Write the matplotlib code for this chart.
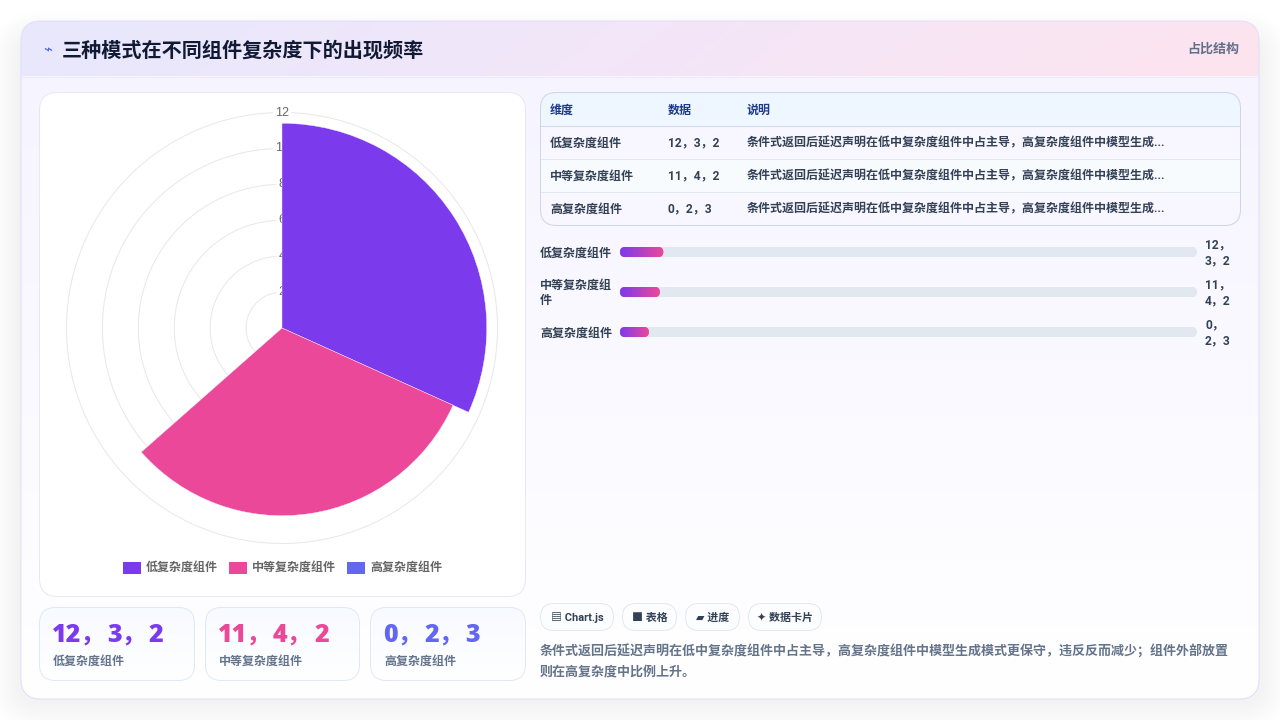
import numpy as np
import matplotlib
matplotlib.use('Agg')
import matplotlib.pyplot as plt
from matplotlib.patches import FancyBboxPatch, Rectangle
from matplotlib.colors import LinearSegmentedColormap

plt.rcParams['font.family'] = ['Noto Sans CJK SC', 'DejaVu Sans']
MIXED = ['Roboto', 'Noto Sans CJK SC', 'DejaVu Sans']

# ---- data ----
title = '三种模式在不同组件复杂度下的出现频率'
badge = '占比结构'
categories = ['低复杂度组件', '中等复杂度组件', '高复杂度组件']
polar_values = [11.4, 10.45, 0.0]
sector_span_deg = [114.3, 114.3, 114.3]
radial_ticks = [2, 4, 6, 8, 10, 12]
data_labels = ['12，3，2', '11，4，2', '0，2，3']
table_head = ['维度', '数据', '说明']
note_short = '条件式返回后延迟声明在低中复杂度组件中占主导，高复杂度组件中模型生成...'
progress_pct = [7.5, 6.9, 5.0]
progress_cat = ['低复杂度组件', '中等复杂度组\n件', '高复杂度组件']
progress_lab = ['12，\n3，2', '11，\n4，2', '0，\n2，3']
tags = ['▤ Chart.js', '■ 表格', '▰ 进度', '✦ 数据卡片']
summary = ['条件式返回后延迟声明在低中复杂度组件中占主导，高复杂度组件中模型生成模式更保守，违反反而减少；组件外部放置',
           '则在高复杂度中比例上升。']
colors = ['#7c3aed', '#ec4899', '#6366f1']

W, H = 1280, 720
fig = plt.figure(figsize=(W/100, H/100), dpi=100)
bg = fig.add_axes([0, 0, 1, 1])
bg.set_xlim(0, W); bg.set_ylim(H, 0); bg.axis('off')
LW = 0.72

def rbox(ax, x, y, w, h, r, fc='white', ec='none', lw=LW, z=2, alpha=None):
    p = FancyBboxPatch((x, y), w, h, boxstyle=f'round,pad=0,rounding_size={r}',
                       fc=fc, ec=ec, lw=lw, zorder=z, alpha=alpha)
    ax.add_patch(p)
    return p

def grad(ax, x, y, w, h, c0, c1, clip, z=2):
    cm = LinearSegmentedColormap.from_list('g', [c0, c1])
    arr = np.linspace(0, 1, 256)[:, None]
    im = ax.imshow(arr, extent=(x, x+w, y+h, y), cmap=cm, vmin=0, vmax=1,
                   aspect='auto', zorder=z, interpolation='bilinear')
    im.set_clip_path(clip)
    return im

def px(s):
    return s * 0.72

# soft neutral shadow, offset downward
for i in range(22):
    g = 30 - i*2.4
    rbox(bg, 21-g, 41-g, 1238+2*g, 660+2*g, 20+g, fc='#3c3c46', z=1, alpha=0.0058)

# card
card = rbox(bg, 21, 21, 1238, 678, 20, fc='white', ec='none', z=2)
grad(bg, 21, 76, 1238, 623, '#f6f4ff', '#ffffff', card, z=2.1)
cm_h = LinearSegmentedColormap.from_list('hd', ['#e8e8fd', '#f3e6f8', '#fde4ef'])
xx = np.linspace(0, 1, 320)
yy = np.linspace(0, 1, 20)
XX, YY = np.meshgrid(xx, yy)
im = bg.imshow(XX*0.95 + YY*0.05, extent=(21, 1259, 76, 21), cmap=cm_h, vmin=0, vmax=1,
               aspect='auto', zorder=2.2, interpolation='bilinear')
im.set_clip_path(card)
bg.plot([21, 1259], [76.5, 76.5], color='#eeeaf8', lw=LW, zorder=2.3)
bg.set_xlim(0, W); bg.set_ylim(H, 0)
rbox(bg, 21, 21, 1238, 678, 20, fc='none', ec='#e2def8', z=2.4)

bg.text(47.5, 50, '⌁', fontsize=px(15), color='#4f63d8', ha='center', va='center', zorder=3,
        family=['DejaVu Sans'])
bg.text(62, 50, title, fontsize=px(20.1), fontweight='bold', color='#111a35', ha='left', va='center', zorder=3)
bg.text(1239, 48.5, badge, fontsize=px(13), fontweight='bold', color='#64708a', ha='right', va='center', zorder=3)

# chart panel
rbox(bg, 39.5, 92.5, 486, 504, 18, fc='white', ec='#e6e9f2', z=3)

# polar chart
cx, cy, R = 282, 328, 215.5
pa = fig.add_axes([(cx-R)/W, 1-(cy+R)/H, 2*R/W, 2*R/H], projection='polar', zorder=5)
pa.patch.set_alpha(0)
pa.set_theta_zero_location('N'); pa.set_theta_direction(-1)
pa.set_ylim(0, max(radial_ticks))
pa.set_xticks([]); pa.set_yticks([])
pa.spines['polar'].set_visible(False)
theta = np.linspace(0, 2*np.pi, 720)
for t in radial_ticks:
    pa.plot(theta, np.full_like(theta, t), color='#e8e8e8', lw=LW, zorder=1, clip_on=False)
    pa.text(0, t, str(t), fontsize=px(12.5), color='#666666', ha='center', va='center', zorder=2,
            family=['Liberation Sans'], clip_on=False,
            bbox=dict(fc='white', ec='none', pad=1.5))
starts = np.cumsum([0] + sector_span_deg[:-1])
for s, span, v, c in zip(starts, sector_span_deg, polar_values, colors):
    pa.bar(np.deg2rad(s), v, width=np.deg2rad(span), align='edge', color=c,
           edgecolor='#f4eefc', linewidth=0.3, zorder=3)
pa.set_ylim(0, max(radial_ticks))

# legend
legend_x = [123, 229, 347]
for x, c, t in zip(legend_x, colors, categories):
    bg.add_patch(Rectangle((x, 562), 18, 12, fc=c, ec='none', zorder=4))
    bg.text(x+23, 567, t, fontsize=px(12), fontweight='bold', color='#666666', ha='left', va='center', zorder=4)

# stat cards
card_x = [(39.5, 155), (205.5, 154), (370.5, 155)]
digit_w, comma_w = 14, 27
for (x, w), c, lab, cat in zip(card_x, colors, data_labels, categories):
    clipc = rbox(bg, x, 607.5, w, 73, 16, fc='white', ec='none', z=3)
    grad(bg, x, 607.5, w, 73, '#f7faff', '#ffffff', clipc, z=3.1)
    bg.set_xlim(0, W); bg.set_ylim(H, 0)
    rbox(bg, x, 607.5, w, 73, 16, fc='none', ec='#dfe9f6', z=3.2)
    tx = x + 13.5
    parts = lab.split('，')
    for j, part in enumerate(parts):
        s = part + ('，' if j < len(parts) - 1 else '')
        bg.text(tx - 1, 635, s, fontsize=px(25), fontweight='black', color=c, ha='left', va='center',
                zorder=4, family=['Open Sans', 'Noto Sans CJK SC'])
        tx += len(part) * digit_w + comma_w
    bg.text(x + 13.5, 661, cat, fontsize=px(12), fontweight='bold', color='#64748b', ha='left', va='center', zorder=4)

# table
tb = rbox(bg, 540.5, 92.5, 700, 133, 16, fc='white', ec='none', z=3)
bg.add_patch(Rectangle((540, 92), 701, 33.5, fc='#eef6ff', ec='none', zorder=3.1, clip_path=tb))
row_y = [125.5, 158.5, 191.5]
row_fc = ['#f8f6ff', '#f8fbfe', '#f8f6ff']
for y, fc in zip(row_y, row_fc):
    bg.add_patch(Rectangle((540, y), 701, 33, fc=fc, ec='none', zorder=3.1, clip_path=tb))
for y, c in zip(row_y, ['#cfd9e8', '#e4e8f0', '#e4e8f0']):
    bg.plot([541, 1240], [y, y], color=c, lw=LW, zorder=3.2)
rbox(bg, 540.5, 92.5, 700, 133, 16, fc='none', ec='#cfd5e6', z=3.3)
col_x = [550, 668, 747]
for x, t in zip(col_x, table_head):
    bg.text(x, 110, t, fontsize=px(12), fontweight='bold', color='#1e3a8a', ha='left', va='center', zorder=4)
for y, cat, lab in zip([143, 176, 209], categories, data_labels):
    bg.text(col_x[0], y, cat, fontsize=px(12), fontweight='bold', color='#334155', ha='left', va='center', zorder=4)
    bg.text(col_x[1], y, lab, fontsize=px(12), fontweight='bold', color='#334155', ha='left', va='center', zorder=4,
            family=MIXED)
    bg.text(col_x[2], y, note_short, fontsize=px(12), fontweight='bold', color='#334155', ha='left', va='center',
            zorder=4, family=MIXED)

# progress bars on their own 0-100 axis
tx0, tw = 620, 577
ya, yb = 240, 345
pr = fig.add_axes([tx0/W, 1-yb/H, tw/W, (yb-ya)/H], zorder=6)
pr.patch.set_alpha(0); pr.axis('off')
bar_y = [252, 292, 332]
asp = tw/100
def prog_box(v, y, **kw):
    r = 5/asp
    p = FancyBboxPatch((0, y-5), v, 10, boxstyle=f'round,pad=0,rounding_size={r}',
                       mutation_aspect=asp, ec='none', clip_on=False, **kw)
    pr.add_patch(p)
    return p
cmb = LinearSegmentedColormap.from_list('pb', ['#7c3aed', '#ec4899'])
for y, v, cat, lab in zip(bar_y, progress_pct, progress_cat, progress_lab):
    prog_box(100, y, fc='#e2e8f0', zorder=1)
    clipb = prog_box(v, y, fc='#ec4899', zorder=2)
    i2 = pr.imshow(np.linspace(0, 1, 64)[None, :], extent=(0, v, y+5, y-5), cmap=cmb,
                   aspect='auto', zorder=3, interpolation='bilinear')
    i2.set_clip_path(clipb)
    bg.text(540, y+1, cat, fontsize=px(12), fontweight='bold', color='#334155', ha='left', va='center',
            zorder=4, linespacing=1.25)
    bg.text(1205, y+1, lab, fontsize=px(12), fontweight='bold', color='#334155', ha='left', va='center',
            zorder=4, linespacing=1.25, family=MIXED)
pr.set_xlim(0, 100); pr.set_ylim(yb, ya)

# tags
tag_box = [(540.5, 73), (622.5, 54), (685.5, 54), (748.5, 73)]
for (x, w), t in zip(tag_box, tags):
    rbox(bg, x, 603.5, w, 27, 13.5, fc='#fbfdff', ec='#e4e9f1', z=3)
    bg.text(x + w/2, 617.5, t, fontsize=px(11), fontweight='bold', color='#334155', ha='center', va='center',
            zorder=4, family=MIXED)

# summary
for y, s in zip([652, 672], summary):
    bg.text(540, y, s, fontsize=px(13), fontweight='bold', color='#64748b', ha='left', va='center', zorder=4)

fig.savefig('out.png', dpi=100)
